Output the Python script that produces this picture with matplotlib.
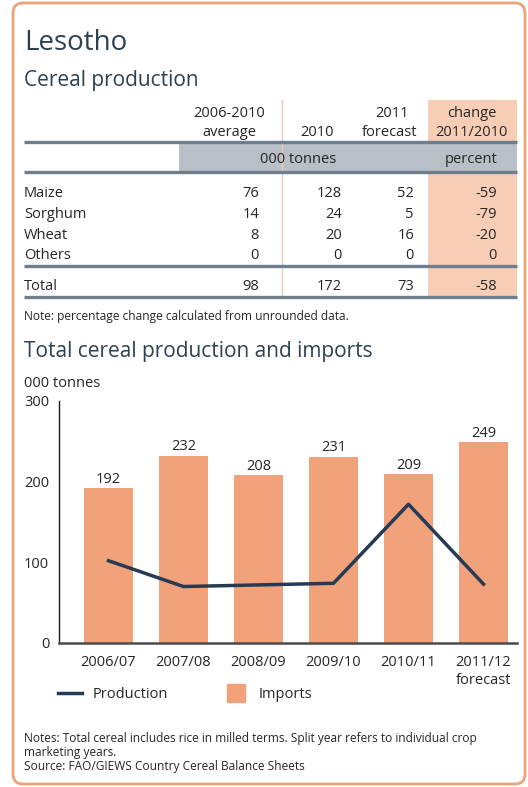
import matplotlib.pyplot as plt
from matplotlib.patches import FancyBboxPatch, Rectangle
from matplotlib.lines import Line2D

plt.rcParams['font.family'] = ['Open Sans', 'DejaVu Sans']

# Table data
crops = ['Maize', 'Sorghum', 'Wheat', 'Others', 'Total']
avg_0610 = [76, 14, 8, 0, 98]
prod_2010 = [128, 24, 20, 0, 172]
fcst_2011 = [52, 5, 16, 0, 73]
change_pct = [-59, -79, -20, 0, -58]

# Chart data
seasons = ['2006/07', '2007/08', '2008/09', '2009/10', '2010/11', '2011/12\nforecast']
imports = [192, 232, 208, 231, 209, 249]
production = [102, 70, 72, 74, 172, 73]

title_col = '#2D4152'
text_col = '#262626'
bar_col = '#F2A27A'
line_col = '#253A54'
rule_col = '#6D7F8F'

W, H = 528, 787
fig = plt.figure(figsize=(W / 100, H / 100), dpi=100)

# background axes in pixel coordinates
bg = fig.add_axes([0, 0, 1, 1], zorder=0)
bg.set_xlim(0, W)
bg.set_ylim(H, 0)
bg.axis('off')

bg.add_patch(FancyBboxPatch((13, 3), 512, 781, boxstyle='round,pad=0,rounding_size=10',
                            fc='white', ec='#E9A577', lw=2))

bg.text(24, 50, 'Lesotho', fontsize=20, color=title_col, va='baseline')
bg.text(24, 86, 'Cereal production', fontsize=15, color=title_col, va='baseline')

# table background
bg.add_patch(Rectangle((428, 100), 89, 197, fc='#F8CDB5', ec='none'))
bg.add_patch(Rectangle((179, 142), 338, 30, fc='#B9BFC6', ec='none'))
bg.plot([282, 282], [100, 297], color='#E8CBBB', lw=1)
for yy in [142, 172, 266, 297]:
    bg.plot([24, 517], [yy, yy], color=rule_col, lw=2.4, solid_capstyle='butt')

fs = 10.5
bg.text(229, 117, '2006-2010', fontsize=fs, color=text_col, ha='center', va='baseline')
bg.text(229, 136, 'average', fontsize=fs, color=text_col, ha='center', va='baseline')
bg.text(317, 136, '2010', fontsize=fs, color=text_col, ha='center', va='baseline')
bg.text(392, 117, '2011', fontsize=fs, color=text_col, ha='center', va='baseline')
bg.text(390, 136, 'forecast', fontsize=fs, color=text_col, ha='center', va='baseline')
bg.text(472, 117, 'change', fontsize=fs, color=text_col, ha='center', va='baseline')
bg.text(471, 136, '2011/2010', fontsize=fs, color=text_col, ha='center', va='baseline')
bg.text(298, 163, '000 tonnes', fontsize=fs, color=text_col, ha='center', va='baseline')
bg.text(471, 163, 'percent', fontsize=fs, color=text_col, ha='center', va='baseline')

row_y = [197, 218, 239, 259, 290]
for i, name in enumerate(crops):
    y = row_y[i]
    bg.text(24, y, name, fontsize=fs, color=text_col, va='baseline')
    bg.text(259, y, str(avg_0610[i]), fontsize=fs, color=text_col, ha='right', va='baseline')
    bg.text(342, y, str(prod_2010[i]), fontsize=fs, color=text_col, ha='right', va='baseline')
    bg.text(414, y, str(fcst_2011[i]), fontsize=fs, color=text_col, ha='right', va='baseline')
    bg.text(497, y, str(change_pct[i]), fontsize=fs, color=text_col, ha='right', va='baseline')

bg.text(24, 320, 'Note: percentage change calculated from unrounded data.',
        fontsize=8.6, color=text_col, va='baseline')

bg.text(24, 357, 'Total cereal production and imports', fontsize=15, color=title_col, va='baseline')
bg.text(24, 387, '000 tonnes', fontsize=fs, color=text_col, va='baseline')

notes = ['Notes: Total cereal includes rice in milled terms. Split year refers to individual crop',
         'marketing years.',
         'Source: FAO/GIEWS Country Cereal Balance Sheets']
for k, line in enumerate(notes):
    bg.text(24, 742 + k * 14, line, fontsize=8.6, color=text_col, va='baseline')

# chart axes
x0, x1, ytop, ybot = 59, 517, 401, 643
ax = fig.add_axes([x0 / W, 1 - ybot / H, (x1 - x0) / W, (ybot - ytop) / H], zorder=1)
ax.patch.set_alpha(0)
x = list(range(len(seasons)))
bars = ax.bar(x, imports, width=0.65, color=bar_col, zorder=1)
for xi, v in zip(x, imports):
    ax.annotate(str(v), xy=(xi, v), xytext=(0, 1), textcoords='offset points',
                ha='center', va='bottom', fontsize=fs, color=text_col)
ax.plot(x, production, color=line_col, lw=2.5, zorder=2)

ax.set_xlim(-0.66, 5.447)
ax.set_ylim(0, 300)
ax.set_yticks([0, 100, 200, 300])
ax.set_xticks(x)
ax.set_xticklabels(seasons)
ax.get_xticklabels()[-1].set_multialignment('right')
ax.tick_params(axis='both', length=0, labelsize=fs, labelcolor=text_col)
ax.tick_params(axis='y', pad=7)
ax.tick_params(axis='x', pad=9)
for s in ['top', 'right']:
    ax.spines[s].set_visible(False)
ax.spines['left'].set_color('#1a1a1a')
ax.spines['left'].set_linewidth(1.0)
ax.spines['bottom'].set_color('#4a4a4a')
ax.spines['bottom'].set_linewidth(1.8)

handles = [Line2D([], [], color=line_col, lw=2.5),
           Line2D([], [], marker='s', markersize=13, color=bar_col, linestyle='none')]
fig.legend(handles, ['Production', 'Imports'], loc='center left',
           bbox_to_anchor=(58 / W, 1 - 695 / H), ncol=2, frameon=False,
           borderpad=0, borderaxespad=0, handlelength=1.65, handletextpad=0.75,
           columnspacing=3.8, fontsize=fs, labelcolor=text_col)

fig.savefig('out.png', dpi=100)
